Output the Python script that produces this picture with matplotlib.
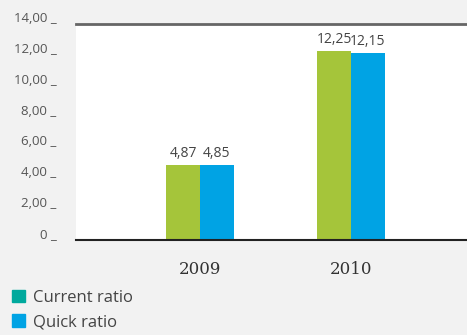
import numpy as np
import matplotlib.pyplot as plt
from matplotlib.patches import Patch
import matplotlib.transforms as mtransforms

years = ['2009', '2010']
current_ratio = [4.87, 12.25]
quick_ratio = [4.85, 12.15]
yticks = [0, 2, 4, 6, 8, 10, 12, 14]

green = '#a5c53a'
blue = '#00a3e4'
teal = '#00a99d'
bg = '#f2f2f2'

plt.rcParams['font.family'] = ['Open Sans', 'DejaVu Sans']

fig = plt.figure(figsize=(4.67, 3.35), dpi=100, facecolor=bg)
ax = fig.add_axes([76/467, 1 - 240/335, 391/467, 216/335])
ax.set_facecolor('white')

x = np.arange(len(years))
w = 0.225
b1 = ax.bar(x - w/2, current_ratio, w, color=green, zorder=2)
b2 = ax.bar(x + w/2, quick_ratio, w, color=blue, zorder=2)

def fmt(v):
    return f'{v:.2f}'.replace('.', ',')

for bars, vals in [(b1, current_ratio), (b2, quick_ratio)]:
    for r, v in zip(bars, vals):
        ax.text(r.get_x() + r.get_width()/2, v + 0.25, fmt(v), ha='center', va='bottom',
                fontsize=10, color='#444444')

ax.set_xlim(-0.821, 1.768)
ax.set_ylim(0, 14)
ax.set_yticks(yticks)
ax.set_yticklabels([('0' if t == 0 else fmt(t)) + ' _' for t in yticks], fontsize=9.5, color='#555555')
ax.tick_params(axis='y', length=0, pad=14)
offset = mtransforms.ScaledTranslation(0, 2/100, fig.dpi_scale_trans)
for lab in ax.get_yticklabels():
    lab.set_va('baseline')
    lab.set_transform(lab.get_transform() + offset)
ax.set_xticks(x)
ax.set_xticklabels(years, fontsize=12, color='#333333', family='DejaVu Serif')
ax.tick_params(axis='x', length=0, pad=15)

for s in ['left', 'right']:
    ax.spines[s].set_visible(False)
ax.spines['top'].set_color('#666666')
ax.spines['top'].set_linewidth(2)
ax.spines['bottom'].set_color('#222222')
ax.spines['bottom'].set_linewidth(1.5)

handles = [Patch(color=teal, label='Current ratio'), Patch(color=blue, label='Quick ratio')]
fig.legend(handles=handles, loc='upper left', bbox_to_anchor=(0.0, 0.17), frameon=False,
           fontsize=12, handlelength=0.8, handleheight=0.8, handletextpad=0.5,
           labelspacing=0.5, borderaxespad=0.3, labelcolor='#444444')

fig.savefig('out.png', dpi=100, facecolor=bg)
